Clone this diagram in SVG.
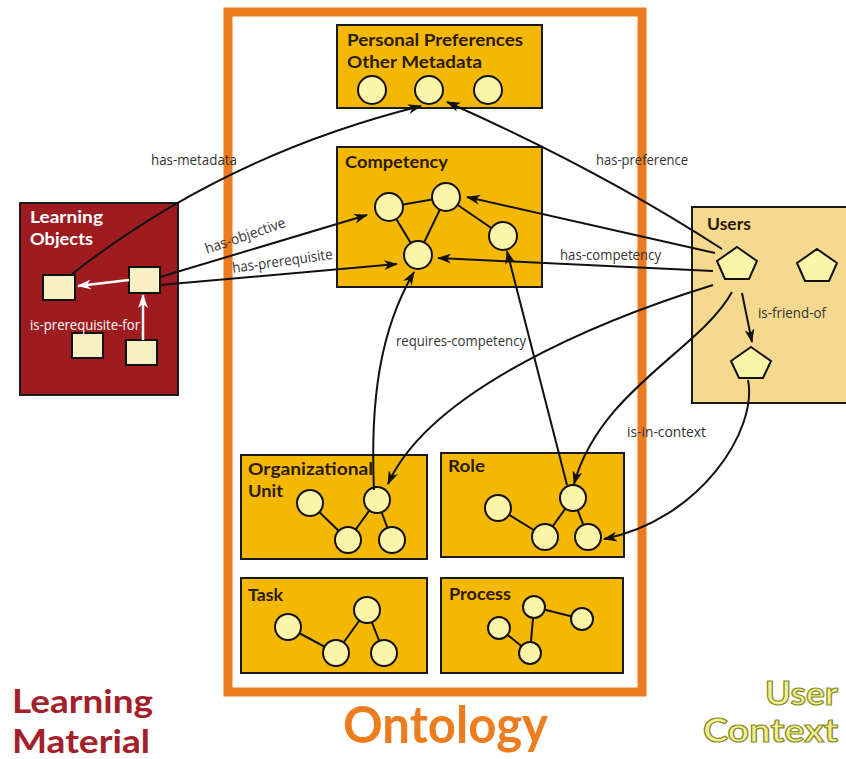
<svg xmlns="http://www.w3.org/2000/svg" width="846" height="759" viewBox="0 0 846 759">
<style>
.box{fill:#f5b800;stroke:#1a1a1a;stroke-width:2}
.c{fill:#fbf5aa;stroke:#111;stroke-width:2}
.e{stroke:#111;stroke-width:2;fill:none}
.t{font-family:Lato,"Open Sans",sans-serif;font-weight:700;font-size:17px;fill:#2b1a05}
.lbl{font-family:"Open Sans","Noto Sans",sans-serif;font-size:14.5px;fill:#333}
.con{stroke:#111;stroke-width:2;fill:none;marker-end:url(#ah)}
.sq{fill:#f7f1c4;stroke:#111;stroke-width:2}
.pent{fill:#fbf5aa;stroke:#111;stroke-width:2}
.big{font-family:Lato,"Open Sans",sans-serif;font-weight:700}
</style>
<defs>
<marker id="ah" viewBox="0 0 14 10" refX="13" refY="5" markerWidth="14" markerHeight="10" markerUnits="userSpaceOnUse" orient="auto">
<path d="M0,0 L14,5 L0,10 L4,5 z" fill="#111"/>
</marker>
<marker id="wh" viewBox="0 0 14 10" refX="13" refY="5" markerWidth="14" markerHeight="10" markerUnits="userSpaceOnUse" orient="auto">
<path d="M0,0 L14,5 L0,10 L4,5 z" fill="#fff"/>
</marker>
</defs>
<rect width="846" height="759" fill="#fff"/>

<g id="ontology">
<rect x="228" y="12" width="414" height="680" fill="none" stroke="#ec7c1e" stroke-width="9"/>
</g>

<g id="preferences">
<rect class="box" x="337" y="25" width="205" height="83"/>
<text class="t" x="347" y="46" textLength="176" lengthAdjust="spacingAndGlyphs">Personal Preferences</text>
<text class="t" x="347" y="68" textLength="135" lengthAdjust="spacingAndGlyphs">Other Metadata</text>
<circle class="c" cx="372" cy="90" r="14"/>
<circle class="c" cx="429" cy="90" r="14"/>
<circle class="c" cx="488" cy="90" r="14"/>
</g>

<g id="competency">
<rect class="box" x="337" y="147" width="205" height="140"/>
<text class="t" x="345" y="168" textLength="103" lengthAdjust="spacingAndGlyphs">Competency</text>
<path class="e" d="M389,207 L446,197 L418,255 Z M446,197 L503,236"/>
<circle class="c" cx="389" cy="207" r="14"/>
<circle class="c" cx="446" cy="197" r="14"/>
<circle class="c" cx="503" cy="236" r="14"/>
<circle class="c" cx="418" cy="255" r="14"/>
</g>

<g id="orgunit">
<rect class="box" x="241" y="455" width="186" height="104"/>
<text class="t" x="248" y="475" textLength="125" lengthAdjust="spacingAndGlyphs">Organizational</text>
<text class="t" x="248" y="497" textLength="35" lengthAdjust="spacingAndGlyphs">Unit</text>
<path class="e" d="M310,503 L348,540 L377,500 L392,540"/>
<circle class="c" cx="310" cy="503" r="13"/>
<circle class="c" cx="377" cy="500" r="13"/>
<circle class="c" cx="348" cy="540" r="13"/>
<circle class="c" cx="392" cy="540" r="13"/>
</g>

<g id="role">
<rect class="box" x="441" y="453" width="183" height="104"/>
<text class="t" x="448" y="472" textLength="37" lengthAdjust="spacingAndGlyphs">Role</text>
<path class="e" d="M498,508 L545,537 L573,498 L588,537"/>
<circle class="c" cx="498" cy="508" r="13"/>
<circle class="c" cx="573" cy="498" r="13"/>
<circle class="c" cx="545" cy="537" r="13"/>
<circle class="c" cx="588" cy="537" r="13"/>
</g>

<g id="task">
<rect class="box" x="241" y="578" width="186" height="95"/>
<text class="t" x="248" y="601" textLength="35" lengthAdjust="spacingAndGlyphs">Task</text>
<path class="e" d="M288,627 L336,653 L367,610 L384,653"/>
<circle class="c" cx="288" cy="627" r="13"/>
<circle class="c" cx="367" cy="610" r="13"/>
<circle class="c" cx="336" cy="653" r="13"/>
<circle class="c" cx="384" cy="653" r="13"/>
</g>

<g id="process">
<rect class="box" x="441" y="578" width="182" height="95"/>
<text class="t" x="449" y="600" textLength="62" lengthAdjust="spacingAndGlyphs">Process</text>
<path class="e" d="M582,619 L534,607 L530,653 L499,628"/>
<circle class="c" cx="534" cy="607" r="11"/>
<circle class="c" cx="582" cy="619" r="11"/>
<circle class="c" cx="499" cy="628" r="11"/>
<circle class="c" cx="530" cy="653" r="11"/>
</g>

<g id="learning-objects">
<rect x="20" y="203" width="158" height="192" fill="#9e1b20" stroke="#1a1a1a" stroke-width="2"/>
<text class="t" x="30" y="223" style="fill:#fff" textLength="73" lengthAdjust="spacingAndGlyphs">Learning</text>
<text class="t" x="30" y="245" style="fill:#fff" textLength="63" lengthAdjust="spacingAndGlyphs">Objects</text>
<rect class="sq" x="43" y="275" width="32" height="25"/>
<rect class="sq" x="129" y="267" width="31" height="26"/>
<rect class="sq" x="72" y="333" width="31" height="25"/>
<rect class="sq" x="126" y="340" width="31" height="25"/>
<path d="M129,280 L78,286" stroke="#fff" stroke-width="2.5" fill="none" marker-end="url(#wh)"/>
<path d="M143,340 L143,295" stroke="#fff" stroke-width="2.5" fill="none" marker-end="url(#wh)"/>
<text class="lbl" x="30" y="330" style="fill:#fff" textLength="110" lengthAdjust="spacingAndGlyphs">is-prerequisite-for</text>
</g>

<g id="users">
<rect x="692" y="207" width="160" height="196" fill="#f5d98e" stroke="#1a1a1a" stroke-width="2"/>
<text class="t" x="707" y="230" textLength="44" lengthAdjust="spacingAndGlyphs">Users</text>
<polygon class="pent" points="737,247 757,261 749,279 725,279 717,261"/>
<polygon class="pent" points="817,249 837,263 829,281 805,281 797,263"/>
<polygon class="pent" points="751,347 771,361 763,378 739,378 731,361"/>
</g>

<g id="connectors">
<path class="con" d="M72,274 Q224,155 421,106"/>
<path class="con" d="M722,249 Q600,170 447,102"/>
<path class="con" d="M715,253 L467,197"/>
<path class="con" d="M713,271 L438,258"/>
<path class="con" d="M160,277 L367,215"/>
<path class="con" d="M160,285 L397,264"/>
<path class="con" d="M374,490 C370,400 380,330 414,272"/>
<path class="con" d="M567,485 L507,251"/>
<path class="con" d="M713,285 C600,320 430,390 388,484"/>
<path class="con" d="M732,292 C700,350 600,390 574,484"/>
<path class="con" d="M742,293 L752,342"/>
<path class="con" d="M748,380 C758,430 700,520 604,539"/>
</g>

<g id="labels">
<text class="lbl" x="151" y="165" textLength="86" lengthAdjust="spacingAndGlyphs">has-metadata</text>
<text class="lbl" x="596" y="165" textLength="92" lengthAdjust="spacingAndGlyphs">has-preference</text>
<text class="lbl" x="560" y="260" textLength="101" lengthAdjust="spacingAndGlyphs">has-competency</text>
<text class="lbl" x="207" y="254" transform="rotate(-19 207 254)" textLength="84" lengthAdjust="spacingAndGlyphs">has-objective</text>
<text class="lbl" x="233" y="273" transform="rotate(-8 233 273)" textLength="101" lengthAdjust="spacingAndGlyphs">has-prerequisite</text>
<text class="lbl" x="396" y="346" textLength="130" lengthAdjust="spacingAndGlyphs">requires-competency</text>
<text class="lbl" x="627" y="437" textLength="79" lengthAdjust="spacingAndGlyphs">is-in-context</text>
<text class="lbl" x="758" y="318" textLength="68" lengthAdjust="spacingAndGlyphs">is-friend-of</text>
</g>

<g id="titles">
<text class="big" x="12" y="713" font-size="33" fill="#a3202a" textLength="141" lengthAdjust="spacingAndGlyphs">Learning</text>
<text class="big" x="12" y="753" font-size="33" fill="#a3202a" textLength="138" lengthAdjust="spacingAndGlyphs">Material</text>
<text class="big" x="343" y="743" font-size="52" fill="#ec7c1e" textLength="205" lengthAdjust="spacingAndGlyphs">Ontology</text>
<text class="big" x="765" y="705" font-size="33" fill="#f2f08e" stroke="#8a8a2a" stroke-width="1.2" textLength="73" lengthAdjust="spacingAndGlyphs">User</text>
<text class="big" x="703" y="742" font-size="33" fill="#f2f08e" stroke="#8a8a2a" stroke-width="1.2" textLength="135" lengthAdjust="spacingAndGlyphs">Context</text>
</g>
</svg>
